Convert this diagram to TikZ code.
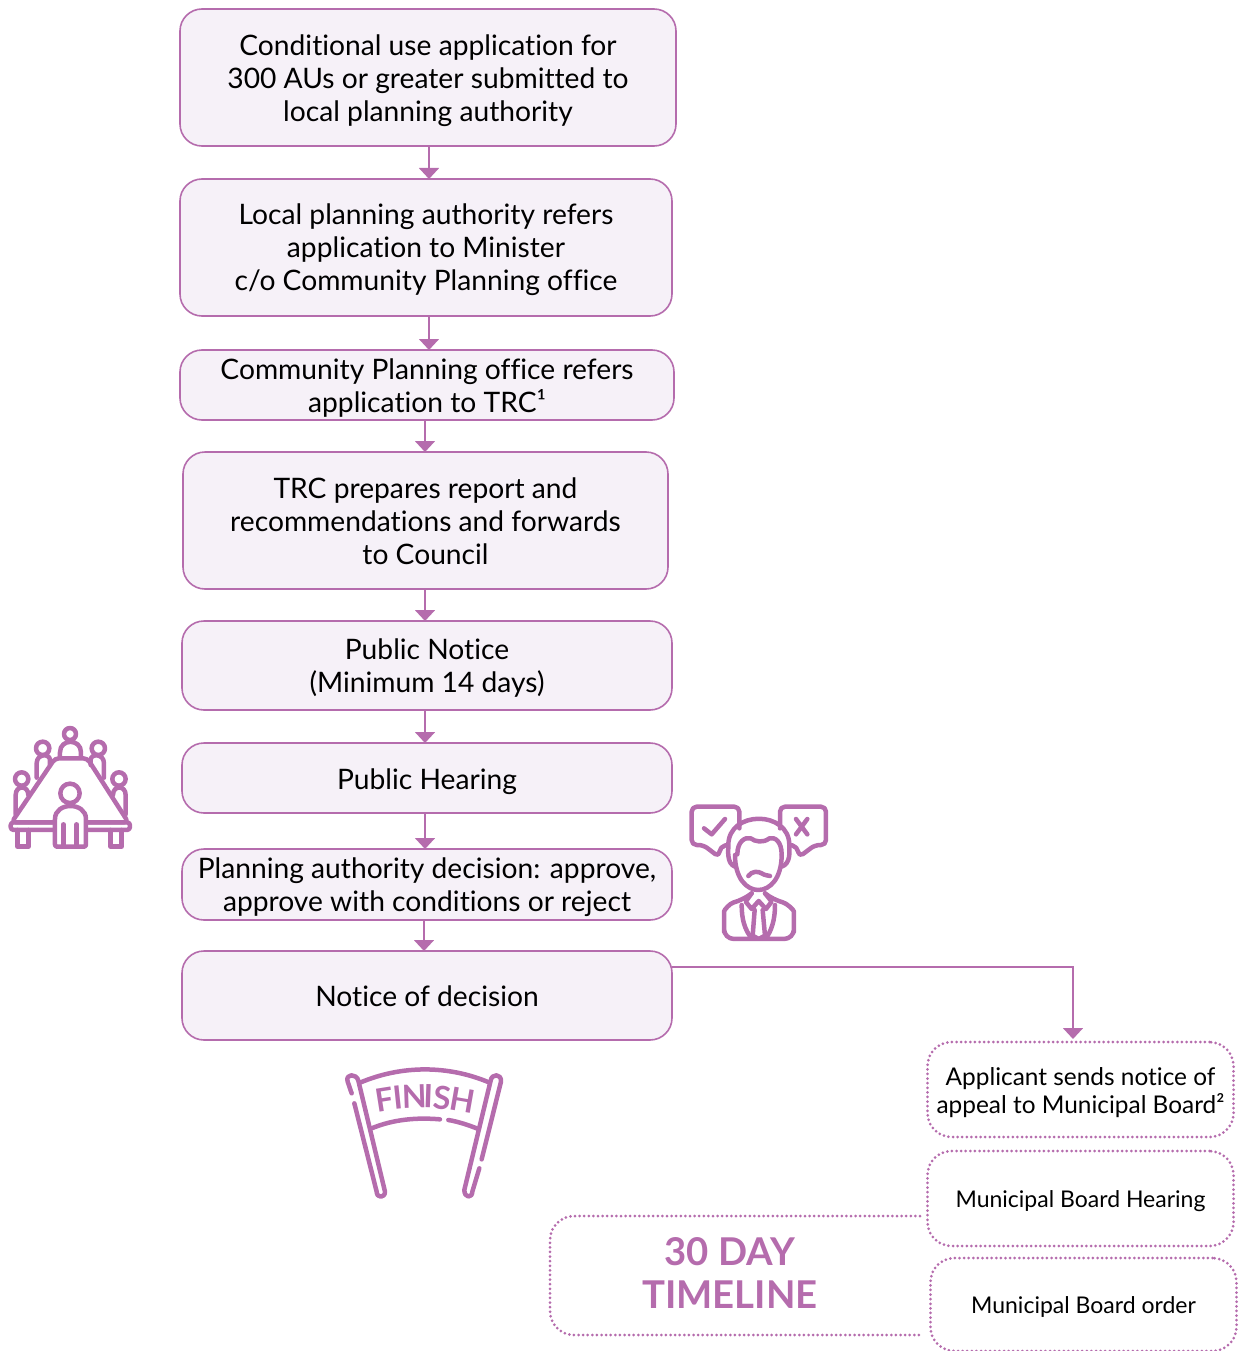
\documentclass[tikz,border=0pt]{standalone}
\usepackage{fontspec}
\setmainfont[Ligatures=NoCommon]{Lato}
\usetikzlibrary{positioning,arrows.meta}
\definecolor{plum}{HTML}{B56CAD}
\definecolor{lilac}{HTML}{F6F1F8}
\newcommand{\topgap}[1]{\rule{0pt}{#1pt}}

\begin{document}
\begin{tikzpicture}[x=1pt,y=-1pt]
		\useasboundingbox (0,0) rectangle (1240,1351);
		\tikzset{stepbox/.style = {draw=plum, fill=lilac, line width=1.6pt, rounded corners=22pt, align=center, outer sep=0pt, inner sep=0pt,
			font=\fontsize{28.2}{33}\selectfont},
		dotbox/.style = {draw=plum, line width=3pt, line cap=round, dash pattern=on 0pt off 4.6pt, rounded corners=24pt, align=center, outer sep=0pt, inner sep=0pt,
			minimum width=306pt, minimum height=95pt, font=\fontsize{23}{28}\selectfont},
		flow/.style = {draw=plum, line width=1.8pt, -{Triangle[width=20pt,length=11pt]}},
		icon/.style = {draw=plum, line width=4.5pt, line cap=round, line join=round}}
		\node[stepbox, minimum width=496pt, minimum height=137pt] (apply) at (428,77.5) {\topgap{27}Conditional use application for\\300 AUs or greater submitted to\\local planning authority};
		\node[stepbox, minimum width=492pt, minimum height=137pt, below=33pt of apply, xshift=-2pt] (refer) {\topgap{26}Local planning authority refers\\application to Minister\\c/o Community Planning office};
		\node[stepbox, minimum width=494pt, minimum height=70pt, below=34pt of refer, xshift=1pt] (trc) {\topgap{27}Community Planning office refers\\application to TRC¹};
		\node[stepbox, minimum width=485pt, minimum height=137pt, below=32pt of trc, xshift=-1.5pt] (report) {\topgap{23}TRC prepares report and\\recommendations and forwards\\to Council};
		\node[stepbox, minimum width=490pt, minimum height=89pt, below=32pt of report, xshift=1.5pt] (notice) {\topgap{26}Public Notice\\(Minimum 14 days)};
		\node[stepbox, minimum width=490pt, minimum height=70pt, below=33pt of notice] (hearing) {\topgap{28}Public Hearing};
		\node[stepbox, minimum width=490pt, minimum height=71pt, below=36pt of hearing] (decision) {\topgap{27}Planning authority decision: approve,\\approve with conditions or reject};
		\node[stepbox, minimum width=490pt, minimum height=89pt, below=31pt of decision] (order) {\topgap{23}Notice of decision};
		\node[dotbox, font=\fontsize{24.4}{28}\selectfont] (appeal) at (1080.5,1089.5) {\topgap{24}Applicant sends notice of\\appeal to Municipal Board²};
		\node[dotbox, below=14pt of appeal] (board) {\topgap{23}Municipal Board Hearing};
		\node[dotbox, minimum height=93pt, below=12pt of board, xshift=3pt] (boardorder) {\topgap{22}Municipal Board order};
		\draw[flow] ([xshift=1pt]apply.south) -- ([xshift=3pt]refer.north);
		\draw[flow] ([xshift=3pt]refer.south) -- ([xshift=2pt]trc.north);
		\draw[flow] ([xshift=-2pt]trc.south) -- ([xshift=-.5pt]report.north);
		\draw[flow] ([xshift=-.5pt]report.south) -- ([xshift=-2pt]notice.north);
		\draw[flow] ([xshift=-2pt]notice.south) -- ([xshift=-2pt]hearing.north);
		\draw[flow] ([xshift=-2pt]hearing.south) -- ([xshift=-2pt]decision.north);
		\draw[flow] ([xshift=-3pt]decision.south) -- ([xshift=-3pt]order.north);
		\draw[flow] ([yshift=-16pt]order.north east) -| ([xshift=-7.5pt,yshift=3pt]appeal.north);
		%30 day box, open on the right
		\draw[dotbox] (920,1216) -- (550,1216) -- (550,1335) -- (920,1335);
		\node[text=plum, align=center, font=\bfseries\fontsize{38.3}{43}\selectfont] (timeline) at (730,1273) {30 DAY\\TIMELINE};
		%table icon
		\begin{scope}[shift={(0,715)}, x=.3333pt, y=-.3333pt]
			\draw[icon, rounded corners=4pt] (165,130) -- (262,130) -- (385,322) -- (35,322) -- cycle;
			\draw[icon, rounded corners=3pt] (32,322) rectangle (390,345);
			\draw[icon] (52,345) -- (52,395) -- (85,395) -- (85,345) (332,345) -- (332,395) -- (365,395) -- (365,345);
			\draw[icon, fill=white, rounded corners=2pt] (165,395) -- (165,318) .. controls (165,260) and (258,260) .. (258,318) -- (258,395) -- cycle;
			\draw[icon] (190,328) -- (190,393) (230,328) -- (230,393);
			\draw[icon] (210,235) circle (29);
			\draw[icon] (210,57) circle (18) (128,100) circle (20) (295,100) circle (20) (65,192) circle (20) (357,192) circle (20);
			\draw[icon] (180,125) -- (180,112) .. controls (180,70) and (243,70) .. (243,112) -- (243,125);
			\draw[icon] (110,188) -- (110,145) .. controls (110,115) and (150,115) .. (150,135) -- (150,150);
			\draw[icon] (312,188) -- (312,145) .. controls (312,115) and (272,115) .. (272,135) -- (272,150);
			\draw[icon] (47,298) -- (47,240) .. controls (47,210) and (85,210) .. (85,240);
			\draw[icon] (377,298) -- (377,240) .. controls (377,210) and (339,210) .. (339,240);
		\end{scope}
		%person icon
		\begin{scope}[shift={(680,795)}, x=.3333pt, y=-.3333pt]
			\draw[icon, rounded corners=5pt] (178,100) -- (178,35) -- (35,35) -- (35,150) -- (70,150) -- (117,186) -- (120,155) -- (142,150);
			\draw[icon, rounded corners=5pt] (300,100) -- (300,35) -- (438,35) -- (438,150) -- (405,150) -- (357,186) -- (352,155) -- (332,150);
			\draw[icon] (72,100) -- (95,118) -- (135,72);
			\draw[icon] (348,72) -- (382,118) (382,72) -- (348,118);
			\draw[icon] (165,215) .. controls (140,205) and (145,170) .. (145,150) .. controls (145,45) and (328,45) .. (328,150) .. controls (328,170) and (333,205) .. (305,215);
			\draw[icon] (172,178) .. controls (172,140) and (195,125) .. (212,130) .. controls (225,140) and (250,145) .. (268,130) .. controls (285,125) and (305,140) .. (305,178);
			\draw[icon] (165,180) .. controls (165,320) and (305,320) .. (305,180);
			\draw[icon] (205,243) .. controls (215,228) and (235,228) .. (245,235) .. controls (255,242) and (262,240) .. (270,243);
			\draw[icon, rounded corners=10pt] (215,295) -- (190,315) .. controls (150,325) and (132,345) .. (132,380) -- (132,432) -- (342,432) -- (342,380) .. controls (342,345) and (320,325) .. (280,315) -- (255,295);
			\draw[icon] (215,295) -- (197,320) -- (215,342) -- (236,318) -- (258,342) -- (275,320) -- (255,295);
			\draw[icon] (224,345) -- (218,422) -- (236,432) -- (255,422) -- (248,345);
			\draw[icon] (185,330) .. controls (185,375) and (195,405) .. (215,430) (285,330) .. controls (285,375) and (275,405) .. (258,430);
		\end{scope}
		%finish icon
		\begin{scope}[shift={(335,1060)}, x=.3333pt, y=-.3333pt]
			\draw[icon] (50,100) -- (38,65) .. controls (30,40) and (65,40) .. (70,62) -- (150,395) .. controls (150,415) and (125,415) .. (125,395) -- (58,130);
			\draw[icon] (440,298) -- (498,65) .. controls (500,40) and (470,40) .. (467,62) -- (388,390) .. controls (388,415) and (412,415) .. (412,395) -- (433,325);
			\draw[icon] (75,68) .. controls (200,15) and (340,15) .. (464,68);
			\draw[icon] (110,205) .. controls (175,178) and (245,172) .. (315,178);
			\draw[icon] (340,180) .. controls (370,185) and (400,195) .. (430,207);
			\foreach \glyph/\px/\py/\tilt in {F/150/118/9, I/190/113/6, N/238/108/2, I/280/108/-2, S/323/113/-6, H/382/122/-10}
				\node[text=plum, rotate=\tilt, inner sep=0pt, font=\bfseries\fontsize{32}{32}\selectfont] at (\px,\py) {\glyph};
		\end{scope}
	\end{tikzpicture}
\end{document}
